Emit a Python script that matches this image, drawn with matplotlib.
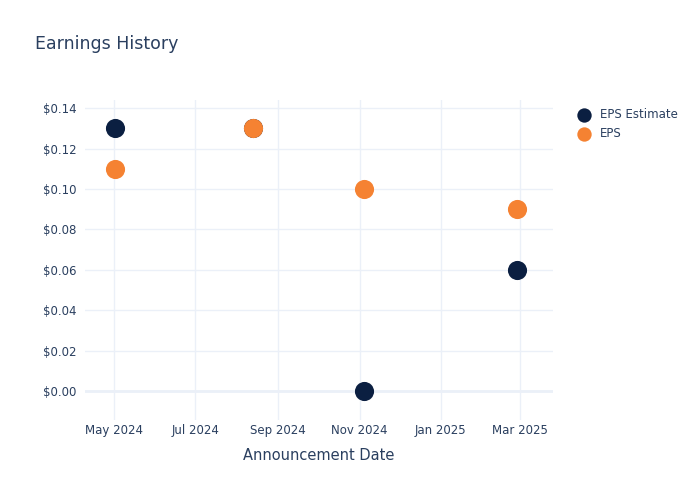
import numpy as np
import matplotlib
matplotlib.use('Agg')
import matplotlib.pyplot as plt
import matplotlib.dates as mdates
import datetime as dt

dates = [dt.date(2024, 5, 2), dt.date(2024, 8, 13), dt.date(2024, 11, 4), dt.date(2025, 2, 27)]
eps_estimate = [0.13, 0.13, 0.00, 0.06]
eps_actual = [0.11, 0.13, 0.10, 0.09]

TEXT = '#2a3f5f'
GRID = '#ebf0f8'
NAVY = '#0b1f41'
ORANGE = '#f58232'

fig = plt.figure(figsize=(7, 5), dpi=100)
ax = fig.add_axes([0.121, 0.16, 0.669, 0.64])

ax.scatter(dates, eps_estimate, s=190, color=NAVY, label='EPS Estimate', zorder=3, linewidths=0)
ax.scatter(dates, eps_actual, s=190, color=ORANGE, label='EPS', zorder=4, linewidths=0)

ax.set_xlim(dt.date(2024, 4, 9), dt.date(2025, 3, 26))
ax.set_ylim(-0.0143, 0.144)

ax.xaxis.set_major_locator(mdates.MonthLocator(bymonth=[1, 3, 5, 7, 9, 11]))
ax.xaxis.set_major_formatter(mdates.DateFormatter('%b %Y'))
ax.set_yticks(np.arange(0, 0.141, 0.02))
ax.yaxis.set_major_formatter(plt.FuncFormatter(lambda v, p: '${:.2f}'.format(v)))

for s in ax.spines.values():
    s.set_visible(False)
ax.grid(True, color=GRID, linewidth=1)
ax.axhline(0, color=GRID, linewidth=2, zorder=1)
ax.set_axisbelow(True)
ax.tick_params(length=0, labelsize=8.5, labelcolor=TEXT)
ax.tick_params(axis='x', pad=3)
ax.tick_params(axis='y', pad=6)

ax.set_xlabel('Announcement Date', fontsize=10.5, color=TEXT, labelpad=8)
fig.text(0.05, 0.912, 'Earnings History', fontsize=12.5, color=TEXT, va='center')

leg = ax.legend(loc='upper left', bbox_to_anchor=(1.03, 0.99), frameon=False,
                fontsize=8.5, labelcolor=TEXT, handletextpad=0.4, borderaxespad=0,
                labelspacing=0.55, markerscale=0.75)

fig.savefig('out.png', dpi=100, facecolor='white')
